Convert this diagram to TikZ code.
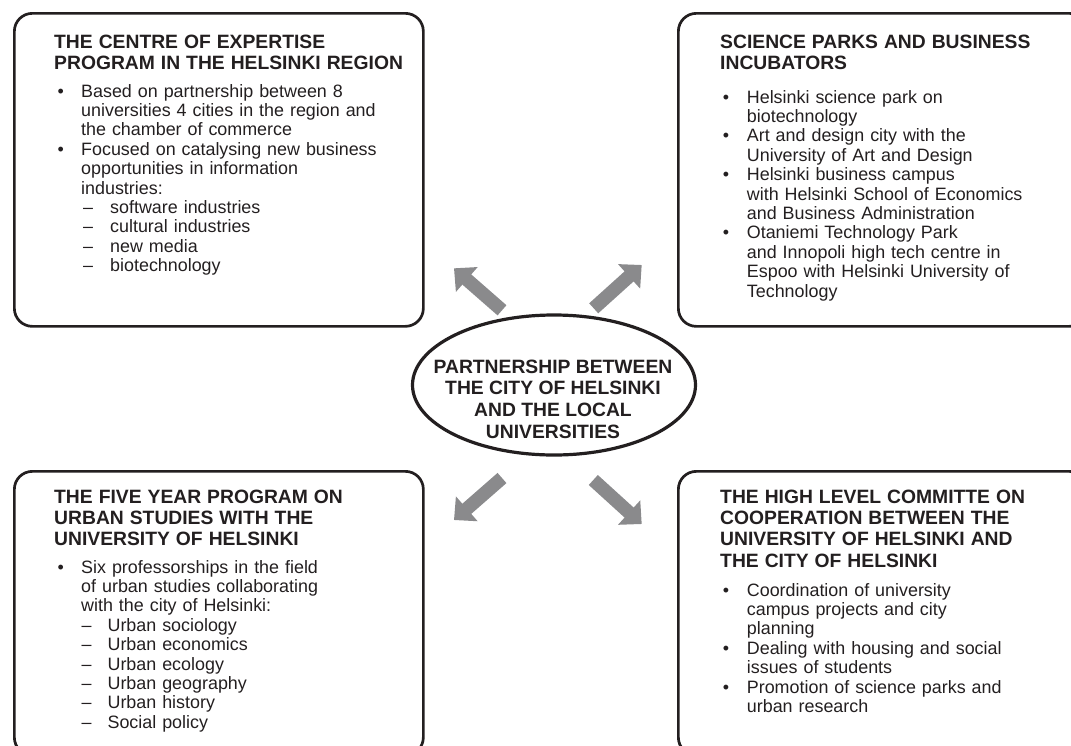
\documentclass[tikz,border=0pt]{standalone}
\usepackage{fontspec}
\setmainfont{Liberation Sans}
\usetikzlibrary{shapes.geometric,arrows.meta}

\definecolor{ink}{HTML}{231F20}
\definecolor{arrowgray}{HTML}{8A8A8C}

% indents of the bullet and dash lists
\newlength\bulx \newlength\bult \newlength\dashx \newlength\dasht
\setlength\bulx{3.5pt}\setlength\bult{27pt}
\setlength\dashx{29pt}\setlength\dasht{56pt}

% line break that stays inside the current paragraph (keeps the hanging indent)
\newcommand\inbreak{\unskip\hfil\break}

\newcommand\bodyfont{\fontsize{17.9pt}{19.4pt}\selectfont\parindent=0pt\parskip=0pt}
\newcommand\boxhead[1]{\noindent{\fontsize{19.3pt}{21.3pt}\selectfont\bfseries #1\par}}
\newcommand\bulitem[1]{\noindent\hangindent=\bult\hangafter=1
  \hbox to \bult{\hskip\bulx\textbullet\hfil}{\let\\\inbreak #1}\par}
\newcommand\dashitem[1]{\noindent\hangindent=\dasht\hangafter=1
  \hbox to \dasht{\hskip\dashx\textendash\hfil}#1\par}

\begin{document}
\begin{tikzpicture}[x=1pt,y=-1pt,
  panel/.style={draw=ink, line width=2.7pt, rounded corners=18pt, anchor=north west,
    inner sep=0pt, minimum width=409pt},
  paneltext/.style={anchor=north west, inner sep=0pt, text width=380pt, align=left,
    text=ink, font=\bodyfont},
  hub/.style={draw=ink, line width=3.2pt, ellipse, inner sep=0pt,
    minimum width=283pt, minimum height=140pt},
  hubtext/.style={align=center, text=ink, inner sep=0pt,
    font=\fontsize{19.3pt}{21.7pt}\selectfont\bfseries},
  bigarrow/.style={draw=arrowgray, line width=13.5pt,
    -{Triangle[length=17pt,width=32pt]}}
]
\useasboundingbox (0,0) rectangle (1071,745);
\clip (0,0) rectangle (1071,745);

% four panels
\node[panel, minimum height=313pt] (tl) at (13,12) {};
\node[panel, minimum height=313pt] (tr) at (677,12) {};
\node[panel, minimum height=284pt] (bl) at (13,470) {};
\node[panel, minimum height=284pt] (br) at (677,470) {};

% central ellipse
\node[hub] (hub) at (554,385) {};
\node[hubtext] (hubt) at (553,399) {PARTNERSHIP BETWEEN\\THE CITY OF HELSINKI\\AND THE LOCAL\\UNIVERSITIES};

% panel texts
\node[paneltext] (tlt) at (54,34.5) {%
  \boxhead{THE CENTRE OF EXPERTISE\\PROGRAM IN THE HELSINKI REGION}
  \vspace{8.3pt}
  \bulitem{Based on partnership between 8\\universities 4 cities in the region and\\the chamber of commerce}
  \bulitem{Focused on catalysing new business\\opportunities in information\\industries:}
  \dashitem{software industries}
  \dashitem{cultural industries}
  \dashitem{new media}
  \dashitem{biotechnology}};

\node[paneltext] (trt) at (720,34.5) {%
  \setlength\bulx{2.7pt}\setlength\bult{26.7pt}%
  \boxhead{SCIENCE PARKS AND BUSINESS\\INCUBATORS}
  \vspace{14.3pt}
  \bulitem{Helsinki science park on\\biotechnology}
  \bulitem{Art and design city with the\\University of Art and Design}
  \bulitem{Helsinki business campus\\with Helsinki School of Economics\\and Business Administration}
  \bulitem{Otaniemi Technology Park\\and Innopoli high tech centre in\\Espoo with Helsinki University of\\Technology}};

\node[paneltext] (blt) at (54,489.5) {%
  \setlength\dashx{27.4pt}\setlength\dasht{53.4pt}%
  \boxhead{THE FIVE YEAR PROGRAM ON\\URBAN STUDIES WITH THE\\UNIVERSITY OF HELSINKI}
  \vspace{7.9pt}
  \bulitem{Six professorships in the field\\of urban studies collaborating\\with the city of Helsinki:}
  \dashitem{Urban sociology}
  \dashitem{Urban economics}
  \dashitem{Urban ecology}
  \dashitem{Urban geography}
  \dashitem{Urban history}
  \dashitem{Social policy}};

\node[paneltext] (brt) at (720,489.5) {%
  \setlength\bulx{2.7pt}\setlength\bult{26.7pt}%
  \boxhead{THE HIGH LEVEL COMMITTE ON\\COOPERATION BETWEEN THE\\UNIVERSITY OF HELSINKI AND\\THE CITY OF HELSINKI}
  \vspace{9.6pt}
  \bulitem{Coordination of university\\campus projects and city\\planning}
  \bulitem{Dealing with housing and social\\issues of students}
  \bulitem{Promotion of science parks and\\urban research}};

% block arrows from the hub towards the panels
\coordinate (ulS) at (502,310.3);  \coordinate (ulE) at (454,268.3);
\coordinate (urS) at (593.7,308.3); \coordinate (urE) at (641.7,265);
\coordinate (llS) at (502,478);    \coordinate (llE) at (454,520);
\coordinate (lrS) at (593.3,480);  \coordinate (lrE) at (641.7,524);
\draw[bigarrow] (ulS) -- (ulE);
\draw[bigarrow] (urS) -- (urE);
\draw[bigarrow] (llS) -- (llE);
\draw[bigarrow] (lrS) -- (lrE);
\end{tikzpicture}
\end{document}
